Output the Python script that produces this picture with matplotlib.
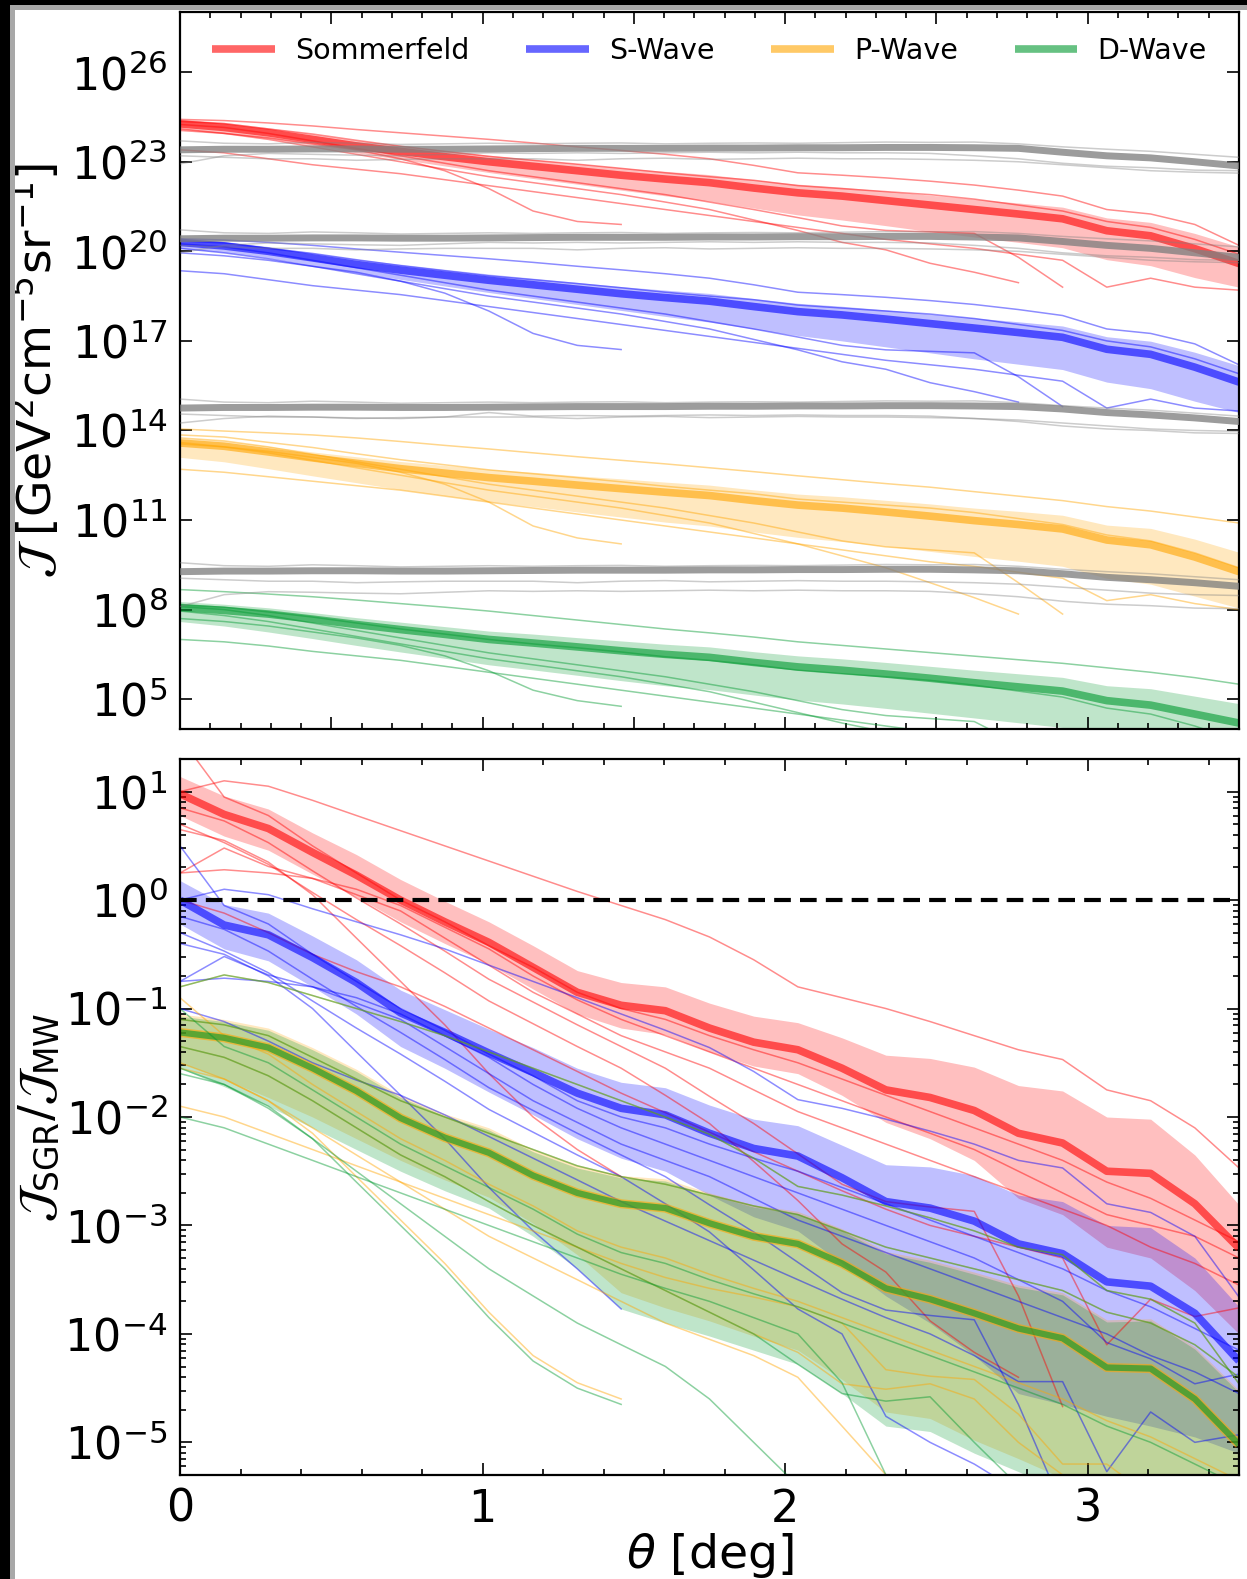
import numpy as np
import matplotlib
matplotlib.use("Agg")
import matplotlib.pyplot as plt
from matplotlib.ticker import FixedLocator, MultipleLocator, NullLocator, LogLocator
from matplotlib.patches import Rectangle

# ---------------------------------------------------------------------------
# Angular grid [deg]
THETA = [0.0, 0.146, 0.292, 0.438, 0.583, 0.729, 0.875, 1.021, 1.167, 1.313,
         1.458, 1.604, 1.75, 1.896, 2.042, 2.188, 2.333, 2.479, 2.625, 2.771,
         2.917, 3.063, 3.208, 3.354, 3.5]

CHANNELS = ["Sommerfeld", "S-Wave", "P-Wave", "D-Wave"]

# ---------------------------------------------------------------------------
# Upper panel: log10 J [GeV^2 cm^-5 sr^-1] for the SGR stream
SOM_MED = [24.27, 24.15, 23.97, 23.75, 23.53, 23.35, 23.17, 23.00, 22.85, 22.70, 22.55, 22.42, 22.30, 22.12, 21.96, 21.85, 21.70, 21.55, 21.40, 21.25, 21.09, 20.69, 20.52, 20.09, 19.59]
SOM_HI = [24.43, 24.32, 24.14, 23.93, 23.72, 23.55, 23.38, 23.22, 23.08, 22.94, 22.80, 22.68, 22.57, 22.40, 22.25, 22.15, 22.02, 21.88, 21.75, 21.62, 21.48, 21.12, 20.97, 20.60, 20.15]
SOM_LO = [24.10, 23.97, 23.78, 23.55, 23.30, 23.08, 22.86, 22.64, 22.44, 22.25, 22.05, 21.86, 21.68, 21.45, 21.22, 21.05, 20.86, 20.66, 20.48, 20.30, 20.12, 19.72, 19.52, 19.12, 18.80]

S_MED = [20.30, 20.18, 20.00, 19.78, 19.56, 19.37, 19.20, 19.03, 18.88, 18.73, 18.58, 18.45, 18.33, 18.15, 17.98, 17.87, 17.73, 17.58, 17.43, 17.28, 17.12, 16.72, 16.55, 16.12, 15.62]
S_HI = [20.43, 20.33, 20.16, 19.95, 19.74, 19.57, 19.40, 19.24, 19.10, 18.96, 18.82, 18.70, 18.59, 18.42, 18.26, 18.16, 18.04, 17.90, 17.77, 17.64, 17.50, 17.14, 16.99, 16.62, 16.17]
S_LO = [20.10, 19.97, 19.78, 19.54, 19.29, 19.06, 18.84, 18.62, 18.42, 18.22, 18.02, 17.82, 17.63, 17.40, 17.18, 17.00, 16.80, 16.60, 16.40, 16.22, 16.04, 15.62, 15.40, 14.98, 14.60]

P_MED = [13.58, 13.47, 13.28, 13.08, 12.90, 12.72, 12.57, 12.42, 12.30, 12.17, 12.05, 11.93, 11.82, 11.65, 11.50, 11.40, 11.27, 11.13, 10.98, 10.85, 10.70, 10.33, 10.17, 9.76, 9.27]
P_HI = [13.75, 13.65, 13.47, 13.28, 13.12, 12.96, 12.83, 12.70, 12.60, 12.48, 12.38, 12.27, 12.17, 12.01, 11.87, 11.78, 11.66, 11.54, 11.40, 11.29, 11.16, 10.83, 10.72, 10.36, 9.92]
P_LO = [13.10, 12.95, 12.72, 12.48, 12.25, 12.02, 11.82, 11.62, 11.45, 11.27, 11.10, 10.93, 10.80, 10.60, 10.42, 10.28, 10.12, 9.95, 9.78, 9.62, 9.45, 9.05, 8.85, 8.45, 8.05]

D_MED = [8.07, 7.97, 7.85, 7.68, 7.50, 7.33, 7.17, 7.00, 6.88, 6.75, 6.62, 6.50, 6.40, 6.23, 6.08, 5.97, 5.84, 5.70, 5.55, 5.41, 5.27, 4.95, 4.80, 4.50, 4.20]
D_HI = [8.27, 8.18, 8.06, 7.90, 7.73, 7.58, 7.43, 7.28, 7.18, 7.06, 6.95, 6.84, 6.75, 6.59, 6.45, 6.35, 6.23, 6.10, 5.97, 5.85, 5.73, 5.45, 5.35, 5.10, 4.85]
D_LO = [7.60, 7.45, 7.25, 7.03, 6.80, 6.58, 6.37, 6.15, 5.98, 5.80, 5.62, 5.45, 5.32, 5.14, 4.97, 4.84, 4.69, 4.53, 4.37, 4.21, 4.05, 3.70, 3.52, 3.15, 2.85]

# individual stream realisations (upper panel)
SOM_RUNS = [
    [24.42, 24.38, 24.30, 24.20, 24.08, 23.97, 23.86, 23.75, 23.63, 23.50, 23.38, 23.25, 23.10, 22.88, 22.63, 22.55, 22.46, 22.35, 22.22, 22.05, 21.85, 21.40, 21.25, 20.90, 20.20],
    [24.05, 23.95, 23.80, 23.60, 23.40, 23.10, 22.70, 22.10, 21.35, 21.00, 20.90],
    [24.10, 23.95, 23.75, 23.50, 23.25, 23.00, 22.75, 22.50, 22.30, 22.10, 21.90, 21.65, 21.40, 21.05, 20.70, 20.30, 20.05, 19.60, 19.30, 18.95],
    [24.25, 24.15, 23.95, 23.70, 23.45, 23.20, 22.95, 22.70, 22.50, 22.30, 22.10, 21.90, 21.65, 21.40, 21.13, 20.85, 20.70, 20.65, 20.60, 19.80, 18.80],
    [23.40, 23.30, 23.10, 22.90, 22.75, 22.60, 22.40, 22.20, 22.00, 21.80, 21.60, 21.40, 21.20, 21.00, 20.80, 20.60, 20.40, 20.25, 20.10, 19.90, 19.70, 18.80, 19.10, 18.80, 18.70],
    [24.35, 24.28, 24.10, 23.93, 23.72, 23.52, 23.35, 23.18, 23.05, 22.92, 22.78, 22.63, 22.50, 22.38, 22.20, 22.10, 22.00, 21.90, 21.75, 21.55, 21.35, 21.00, 20.80, 20.40, 19.90],
]
S_RUNS = [
    [20.42, 20.38, 20.30, 20.20, 20.08, 19.97, 19.86, 19.75, 19.63, 19.50, 19.38, 19.25, 19.10, 18.88, 18.63, 18.55, 18.46, 18.35, 18.22, 18.05, 17.85, 17.40, 17.25, 16.90, 16.20],
    [19.95, 19.85, 19.70, 19.50, 19.30, 19.00, 18.60, 18.00, 17.25, 16.85, 16.71],
    [20.10, 19.95, 19.75, 19.50, 19.25, 19.00, 18.75, 18.50, 18.30, 18.10, 17.90, 17.65, 17.40, 17.05, 16.70, 16.30, 16.05, 15.60, 15.30, 14.95],
    [20.25, 20.15, 19.95, 19.70, 19.45, 19.20, 18.95, 18.70, 18.50, 18.30, 18.10, 17.90, 17.65, 17.40, 17.13, 16.85, 16.70, 16.65, 16.60, 15.80, 14.80],
    [19.35, 19.25, 19.05, 18.85, 18.70, 18.55, 18.35, 18.15, 17.95, 17.75, 17.55, 17.35, 17.15, 16.95, 16.75, 16.55, 16.35, 16.20, 16.05, 15.85, 15.65, 14.75, 15.05, 14.75, 14.65],
    [20.35, 20.28, 20.10, 19.93, 19.72, 19.52, 19.35, 19.18, 19.05, 18.92, 18.78, 18.63, 18.50, 18.38, 18.20, 18.10, 18.00, 17.90, 17.75, 17.55, 17.35, 17.00, 16.80, 16.40, 15.90],
]
P_RUNS = [
    [14.05, 13.98, 13.92, 13.85, 13.75, 13.63, 13.50, 13.38, 13.25, 13.12, 13.00, 12.88, 12.75, 12.62, 12.48, 12.35, 12.22, 12.10, 11.95, 11.80, 11.65, 11.45, 11.30, 11.10, 10.90],
    [13.55, 13.45, 13.30, 13.10, 12.90, 12.60, 12.20, 11.60, 10.80, 10.40, 10.20],
    [13.60, 13.45, 13.25, 13.00, 12.75, 12.50, 12.25, 12.00, 11.80, 11.60, 11.40, 11.15, 10.90, 10.55, 10.20, 9.80, 9.40, 8.90, 8.40, 7.85],
    [13.75, 13.65, 13.45, 13.20, 12.95, 12.70, 12.45, 12.20, 12.00, 11.80, 11.60, 11.40, 11.15, 10.90, 10.60, 10.30, 10.10, 10.00, 9.90, 8.90, 7.85],
    [12.70, 12.60, 12.45, 12.30, 12.15, 12.00, 11.80, 11.60, 11.40, 11.20, 11.00, 10.80, 10.60, 10.40, 10.20, 10.00, 9.80, 9.60, 9.45, 9.25, 9.05, 8.30, 8.50, 8.20, 8.00],
    [13.85, 13.78, 13.60, 13.43, 13.22, 13.02, 12.85, 12.68, 12.55, 12.42, 12.28, 12.13, 12.00, 11.88, 11.70, 11.60, 11.50, 11.40, 11.25, 11.05, 10.85, 10.50, 10.30, 9.90, 9.40],
]
D_RUNS = [
    [8.67, 8.60, 8.52, 8.43, 8.32, 8.20, 8.08, 7.95, 7.80, 7.65, 7.50, 7.35, 7.22, 7.08, 6.92, 6.80, 6.68, 6.56, 6.44, 6.32, 6.20, 6.05, 5.90, 5.72, 5.50],
    [7.70, 7.60, 7.45, 7.25, 7.05, 6.80, 6.45, 5.95, 5.30, 4.95, 4.76],
    [7.95, 7.80, 7.60, 7.35, 7.10, 6.85, 6.60, 6.35, 6.15, 5.95, 5.75, 5.50, 5.25, 4.90, 4.55, 4.20, 3.90, 3.50, 3.10, 2.70],
    [8.10, 8.00, 7.80, 7.55, 7.30, 7.05, 6.80, 6.55, 6.35, 6.15, 5.95, 5.75, 5.50, 5.25, 4.95, 4.65, 4.45, 4.35, 4.25, 3.50, 2.60],
    [7.00, 6.92, 6.78, 6.60, 6.45, 6.30, 6.10, 5.90, 5.70, 5.50, 5.30, 5.10, 4.90, 4.70, 4.50, 4.30, 4.10, 3.90, 3.70, 3.50, 3.30, 2.50, 2.70, 2.40, 2.20],
    [8.15, 8.08, 7.92, 7.75, 7.55, 7.35, 7.18, 7.00, 6.85, 6.72, 6.58, 6.42, 6.30, 6.15, 5.97, 5.85, 5.75, 5.63, 5.47, 5.27, 5.07, 4.70, 4.50, 4.10, 3.60],
]

# Milky Way foreground (log10 J), one bundle per channel
SOM_MW = [23.40, 23.42, 23.42, 23.43, 23.43, 23.42, 23.42, 23.43, 23.44, 23.45, 23.45, 23.45, 23.46, 23.46, 23.47, 23.47, 23.48, 23.48, 23.47, 23.45, 23.32, 23.20, 23.13, 23.00, 22.86]
S_MW = [20.42, 20.44, 20.44, 20.45, 20.45, 20.44, 20.44, 20.45, 20.46, 20.47, 20.47, 20.47, 20.48, 20.48, 20.49, 20.49, 20.50, 20.50, 20.48, 20.45, 20.33, 20.20, 20.10, 19.95, 19.80]
P_MW = [14.75, 14.77, 14.77, 14.78, 14.78, 14.77, 14.77, 14.78, 14.79, 14.80, 14.80, 14.80, 14.81, 14.81, 14.82, 14.82, 14.83, 14.83, 14.82, 14.80, 14.72, 14.60, 14.52, 14.42, 14.30]
D_MW = [9.27, 9.29, 9.29, 9.30, 9.30, 9.29, 9.29, 9.30, 9.31, 9.32, 9.32, 9.32, 9.33, 9.33, 9.34, 9.34, 9.35, 9.35, 9.33, 9.30, 9.20, 9.08, 9.00, 8.90, 8.78]

SOM_MW_RUNS = [
    [23.70, 23.62, 23.60, 23.65, 23.62, 23.58, 23.60, 23.62, 23.60, 23.62, 23.63, 23.60, 23.62, 23.63, 23.62, 23.64, 23.66, 23.65, 23.66, 23.60, 23.50, 23.42, 23.35, 23.25, 23.15],
    [22.93, 23.20, 23.28, 23.25, 23.22, 23.20, 23.25, 23.30, 23.28, 23.30, 23.28, 23.30, 23.32, 23.30, 23.32, 23.30, 23.30, 23.28, 23.20, 23.10, 22.95, 22.85, 22.80, 22.72, 22.70],
    [23.20, 23.15, 23.10, 23.10, 23.05, 23.08, 23.10, 23.10, 23.10, 23.05, 23.10, 23.12, 23.08, 23.10, 23.12, 23.10, 23.10, 23.08, 23.05, 23.00, 22.90, 22.80, 22.70, 22.65, 22.62],
]
S_MW_RUNS = [
    [20.72, 20.62, 20.60, 20.65, 20.62, 20.58, 20.60, 20.62, 20.60, 20.62, 20.63, 20.60, 20.62, 20.63, 20.62, 20.64, 20.66, 20.65, 20.66, 20.60, 20.50, 20.42, 20.35, 20.25, 20.15],
    [19.95, 20.20, 20.28, 20.25, 20.22, 20.20, 20.25, 20.30, 20.28, 20.30, 20.28, 20.30, 20.32, 20.30, 20.32, 20.30, 20.30, 20.28, 20.20, 20.10, 19.95, 19.85, 19.80, 19.72, 19.70],
    [20.20, 20.15, 20.10, 20.10, 20.05, 20.08, 20.10, 20.10, 20.10, 20.05, 20.10, 20.12, 20.08, 20.10, 20.12, 20.10, 20.10, 20.08, 20.05, 20.00, 19.90, 19.80, 19.70, 19.65, 19.62],
]
P_MW_RUNS = [
    [15.05, 14.95, 14.93, 14.98, 14.95, 14.91, 14.93, 14.95, 14.93, 14.95, 14.96, 14.93, 14.95, 14.96, 14.95, 14.97, 14.99, 14.98, 14.99, 14.93, 14.83, 14.75, 14.68, 14.58, 14.48],
    [14.25, 14.40, 14.48, 14.45, 14.42, 14.40, 14.45, 14.60, 14.48, 14.50, 14.48, 14.50, 14.52, 14.50, 14.52, 14.50, 14.50, 14.48, 14.40, 14.30, 14.15, 14.05, 14.00, 13.92, 13.90],
    [14.55, 14.50, 14.45, 14.45, 14.40, 14.43, 14.45, 14.45, 14.45, 14.40, 14.45, 14.47, 14.43, 14.45, 14.47, 14.45, 14.45, 14.43, 14.40, 14.35, 14.25, 14.15, 14.05, 14.00, 13.97],
]
D_MW_RUNS = [
    [9.57, 9.47, 9.45, 9.50, 9.47, 9.43, 9.45, 9.47, 9.45, 9.47, 9.48, 9.45, 9.47, 9.48, 9.47, 9.49, 9.51, 9.50, 9.51, 9.45, 9.35, 9.27, 9.20, 9.10, 9.00],
    [8.10, 8.50, 8.60, 8.58, 8.55, 8.53, 8.58, 8.63, 8.61, 8.63, 8.61, 8.63, 8.65, 8.63, 8.65, 8.63, 8.63, 8.61, 8.53, 8.43, 8.28, 8.18, 8.13, 8.05, 8.03],
    [9.05, 9.00, 8.95, 8.95, 8.90, 8.93, 8.95, 8.95, 8.95, 8.90, 8.95, 8.97, 8.93, 8.95, 8.97, 8.95, 8.95, 8.93, 8.90, 8.85, 8.75, 8.65, 8.55, 8.50, 8.47],
]

# ---------------------------------------------------------------------------
# Lower panel: log10 (J_SGR / J_MW)
SOM_R_MED = [0.98, 0.79, 0.66, 0.44, 0.23, 0.00, -0.20, -0.39, -0.62, -0.85, -0.97, -1.02, -1.18, -1.31, -1.38, -1.55, -1.75, -1.82, -1.94, -2.15, -2.24, -2.50, -2.52, -2.80, -3.21]
SOM_R_HI = [1.14, 0.96, 0.84, 0.62, 0.42, 0.19, -0.01, -0.20, -0.42, -0.65, -0.76, -0.80, -0.95, -1.07, -1.13, -1.27, -1.43, -1.46, -1.54, -1.71, -1.76, -2.00, -2.02, -2.35, -2.81]
SOM_R_LO = [0.78, 0.59, 0.46, 0.24, 0.03, -0.20, -0.40, -0.59, -0.82, -1.05, -1.18, -1.24, -1.40, -1.53, -1.60, -1.80, -2.05, -2.20, -2.40, -2.75, -2.90, -3.20, -3.30, -3.60, -4.00]

S_R_MED = [0.00, -0.23, -0.32, -0.53, -0.76, -1.04, -1.22, -1.41, -1.59, -1.78, -1.92, -1.98, -2.15, -2.29, -2.36, -2.56, -2.78, -2.84, -2.96, -3.17, -3.26, -3.52, -3.56, -3.81, -4.25]
S_R_HI = [0.18, -0.04, -0.12, -0.33, -0.55, -0.83, -1.01, -1.19, -1.36, -1.55, -1.68, -1.73, -1.89, -2.02, -2.08, -2.26, -2.44, -2.46, -2.54, -2.72, -2.78, -3.00, -3.02, -3.30, -3.75]
S_R_LO = [-0.22, -0.45, -0.56, -0.80, -1.05, -1.35, -1.55, -1.77, -1.98, -2.20, -2.38, -2.50, -2.72, -2.92, -3.05, -3.35, -3.65, -3.90, -4.20, -4.55, -4.65, -4.76, -4.85, -4.95, -5.10]

P_R_MED = [-1.22, -1.27, -1.36, -1.55, -1.76, -2.01, -2.19, -2.33, -2.54, -2.70, -2.80, -2.84, -2.98, -3.10, -3.17, -3.35, -3.58, -3.68, -3.81, -3.95, -4.04, -4.31, -4.32, -4.60, -5.02]
P_R_HI = [-1.05, -1.10, -1.18, -1.36, -1.56, -1.80, -1.97, -2.10, -2.30, -2.45, -2.54, -2.57, -2.70, -2.81, -2.87, -3.03, -3.24, -3.32, -3.43, -3.55, -3.62, -3.87, -3.86, -4.12, -4.52]
P_R_LO = [-1.50, -1.65, -1.82, -2.00, -2.20, -2.40, -2.58, -2.74, -2.98, -3.27, -3.62, -3.76, -3.88, -4.02, -4.15, -4.42, -4.72, -4.78, -4.98, -5.15, -5.33, -5.50, -5.60, -5.80, -6.00]

D_R_MED = [-1.22, -1.27, -1.36, -1.55, -1.76, -2.01, -2.19, -2.33, -2.54, -2.70, -2.80, -2.84, -2.98, -3.10, -3.17, -3.35, -3.58, -3.68, -3.81, -3.95, -4.04, -4.31, -4.32, -4.60, -5.02]
D_R_HI = [-1.07, -1.12, -1.20, -1.38, -1.58, -1.82, -1.99, -2.12, -2.32, -2.47, -2.56, -2.59, -2.72, -2.83, -2.89, -3.05, -3.26, -3.34, -3.45, -3.57, -3.64, -3.89, -3.88, -4.14, -4.54]
D_R_LO = [-1.55, -1.72, -1.90, -2.10, -2.30, -2.50, -2.68, -2.84, -3.10, -3.40, -3.77, -3.90, -4.02, -4.15, -4.28, -4.55, -4.85, -4.90, -5.10, -5.27, -5.45, -5.60, -5.70, -5.90, -6.10]

SOM_R_RUNS = [
    [1.00, 1.10, 1.05, 0.92, 0.78, 0.64, 0.50, 0.36, 0.22, 0.08, -0.05, -0.18, -0.34, -0.55, -0.80, -0.90, -1.00, -1.12, -1.25, -1.38, -1.47, -1.75, -1.85, -2.10, -2.47],
    [0.65, 0.55, 0.35, 0.05, -0.35, -0.75, -1.15, -1.60, -2.00, -2.30, -2.55],
    [0.70, 0.53, 0.33, 0.07, -0.18, -0.42, -0.67, -0.93, -1.14, -1.35, -1.55, -1.80, -2.06, -2.41, -2.77, -3.17, -3.43, -3.88, -4.17, -4.40],
    [0.85, 0.73, 0.53, 0.27, 0.02, -0.22, -0.47, -0.73, -0.94, -1.15, -1.35, -1.55, -1.81, -2.06, -2.34, -2.62, -2.78, -2.83, -2.87, -3.65, -4.67],
    [0.00, -0.12, -0.30, -0.50, -0.66, -0.80, -0.98, -1.18, -1.38, -1.58, -1.78, -1.96, -2.14, -2.32, -2.50, -2.68, -2.85, -3.00, -3.10, -3.20, -3.30, -4.10, -3.68, -3.84, -3.76],
    [1.50, 0.95, 0.78, 0.50, 0.25, 0.00, -0.20, -0.42, -0.62, -0.85, -1.00, -1.10, -1.25, -1.38, -1.50, -1.65, -1.80, -1.95, -2.10, -2.25, -2.40, -2.60, -2.75, -2.95, -3.15],
    [0.25, 0.48, 0.31, 0.20, 0.10, -0.05, -0.25, -0.45, -0.70, -0.92, -1.10, -1.25, -1.40, -1.55, -1.70, -1.85, -2.00, -2.15, -2.30, -2.50, -2.70, -2.90, -3.00, -3.10, -3.30],
    [0.25, 0.28, 0.25, 0.20, 0.05, -0.10, -0.35, -0.60, -0.85, -1.05, -1.25, -1.40, -1.55, -1.75, -1.95, -2.10, -2.25, -2.40, -2.55, -2.70, -2.85, -3.00, -3.20, -3.35, -3.55],
]
S_R_RUNS = [
    [0.00, 0.10, 0.05, -0.08, -0.20, -0.32, -0.45, -0.60, -0.75, -0.90, -1.05, -1.20, -1.36, -1.58, -1.84, -1.92, -2.02, -2.13, -2.25, -2.40, -2.47, -2.80, -2.88, -3.10, -3.66],
    [-0.40, -0.50, -0.70, -1.00, -1.40, -1.80, -2.20, -2.65, -3.05, -3.40, -3.77],
    [-0.30, -0.47, -0.67, -0.93, -1.18, -1.42, -1.67, -1.93, -2.14, -2.35, -2.55, -2.80, -3.06, -3.41, -3.77, -4.00, -4.76, -5.00, -5.20, -5.45],
    [-0.15, -0.27, -0.47, -0.73, -0.98, -1.22, -1.47, -1.73, -1.94, -2.15, -2.35, -2.55, -2.81, -3.06, -3.34, -3.62, -3.78, -3.83, -3.87, -4.65, -5.60],
    [-1.00, -1.12, -1.30, -1.50, -1.66, -1.80, -1.98, -2.18, -2.38, -2.58, -2.78, -2.96, -3.14, -3.32, -3.50, -3.68, -3.85, -4.00, -4.20, -4.44, -4.44, -5.27, -4.72, -5.00, -4.93],
    [0.50, -0.05, -0.22, -0.50, -0.75, -1.00, -1.20, -1.42, -1.62, -1.85, -2.00, -2.10, -2.25, -2.38, -2.50, -2.65, -2.80, -2.95, -3.10, -3.25, -3.40, -3.60, -3.75, -3.95, -4.15],
    [-0.75, -0.52, -0.69, -0.80, -0.90, -1.05, -1.25, -1.45, -1.70, -1.92, -2.10, -2.25, -2.40, -2.55, -2.70, -2.85, -3.00, -3.15, -3.30, -3.50, -3.70, -4.08, -4.23, -4.46, -4.37],
    [-0.75, -0.72, -0.75, -0.80, -0.95, -1.10, -1.35, -1.60, -1.85, -2.05, -2.25, -2.40, -2.55, -2.75, -2.95, -3.10, -3.25, -3.40, -3.55, -3.70, -3.85, -4.00, -4.20, -4.35, -4.55],
]
P_R_RUNS = [
    [-0.80, -0.69, -0.76, -0.88, -1.00, -1.12, -1.25, -1.40, -1.55, -1.70, -1.85, -2.00, -2.16, -2.38, -2.64, -2.72, -2.82, -2.93, -3.05, -3.20, -3.27, -3.60, -3.68, -3.90, -4.46],
    [-1.55, -1.65, -1.85, -2.15, -2.55, -2.95, -3.35, -3.80, -4.20, -4.45, -4.60],
    [-1.50, -1.65, -1.85, -2.10, -2.35, -2.60, -2.85, -3.10, -3.30, -3.50, -3.70, -3.90, -4.05, -4.20, -4.40, -4.85, -5.30, -5.60, -5.90, -6.20],
    [-1.35, -1.45, -1.62, -1.85, -2.10, -2.35, -2.55, -2.78, -3.00, -3.20, -3.40, -3.60, -3.80, -4.00, -4.17, -4.46, -4.51, -4.46, -4.60, -5.00, -5.30],
    [-1.90, -2.00, -2.15, -2.30, -2.45, -2.60, -2.75, -2.90, -3.05, -3.20, -3.35, -3.48, -3.58, -3.66, -3.75, -3.90, -4.33, -4.39, -4.42, -4.74, -5.20, -5.20, -5.50, -5.70, -5.90],
    [-0.90, -1.25, -1.42, -1.70, -1.95, -2.20, -2.40, -2.62, -2.82, -3.05, -3.20, -3.30, -3.45, -3.58, -3.70, -3.85, -4.00, -4.15, -4.30, -4.45, -4.60, -4.80, -4.95, -5.15, -5.35],
    [-1.10, -1.15, -1.25, -1.45, -1.65, -1.85, -2.00, -2.15, -2.30, -2.45, -2.55, -2.62, -2.72, -2.82, -2.90, -3.05, -3.20, -3.30, -3.40, -3.50, -3.60, -3.80, -3.90, -4.10, -4.40],
]
D_R_RUNS = [
    [-0.80, -0.69, -0.76, -0.88, -1.00, -1.12, -1.25, -1.40, -1.55, -1.70, -1.85, -2.00, -2.16, -2.38, -2.64, -2.72, -2.82, -2.93, -3.05, -3.20, -3.27, -3.60, -3.68, -3.90, -4.46],
    [-1.60, -1.70, -1.90, -2.20, -2.60, -3.00, -3.40, -3.85, -4.25, -4.50, -4.65],
    [-1.55, -1.70, -1.92, -2.20, -2.50, -2.80, -3.10, -3.40, -3.65, -3.90, -4.10, -4.30, -4.60, -5.00, -5.40, -5.80],
    [-1.35, -1.45, -1.62, -1.85, -2.10, -2.35, -2.55, -2.78, -3.00, -3.20, -3.40, -3.60, -3.80, -4.00, -4.28, -4.55, -4.62, -4.58, -5.00, -5.40],
    [-2.00, -2.10, -2.25, -2.40, -2.55, -2.70, -2.85, -3.00, -3.15, -3.30, -3.45, -3.58, -3.70, -3.85, -4.00, -4.45, -5.30, -5.60],
    [-1.00, -1.35, -1.50, -1.75, -2.00, -2.25, -2.45, -2.65, -2.85, -3.08, -3.25, -3.35, -3.50, -3.63, -3.75, -3.90, -4.05, -4.20, -4.35, -4.50, -4.65, -4.85, -5.00, -5.20, -5.40],
    [-1.10, -1.15, -1.25, -1.45, -1.65, -1.85, -2.00, -2.15, -2.30, -2.45, -2.55, -2.62, -2.72, -2.82, -2.90, -3.05, -3.20, -3.30, -3.40, -3.50, -3.60, -3.80, -3.90, -4.10, -4.40],
]

COLORS = ["#ff0000", "#0000ff", "#ffa500", "#00992f"]

TOP = [
    (SOM_MED, SOM_LO, SOM_HI, SOM_RUNS),
    (S_MED, S_LO, S_HI, S_RUNS),
    (P_MED, P_LO, P_HI, P_RUNS),
    (D_MED, D_LO, D_HI, D_RUNS),
]
MW = [(SOM_MW, SOM_MW_RUNS), (S_MW, S_MW_RUNS), (P_MW, P_MW_RUNS), (D_MW, D_MW_RUNS)]
BOTTOM = [
    (SOM_R_MED, SOM_R_LO, SOM_R_HI, SOM_R_RUNS),
    (S_R_MED, S_R_LO, S_R_HI, S_R_RUNS),
    (P_R_MED, P_R_LO, P_R_HI, P_R_RUNS),
    (D_R_MED, D_R_LO, D_R_HI, D_R_RUNS),
]


def lin(v):
    return 10.0 ** np.asarray(v, dtype=float)


def draw_channel(ax, med, lo, hi, runs, color, label=None, lw=5.5):
    ax.fill_between(THETA, lin(lo), lin(hi), color=color, alpha=0.25, lw=0)
    for r in runs:
        ax.plot(THETA[:len(r)], lin(r), color=color, alpha=0.45, lw=1.1)
    ax.plot(THETA, lin(med), color=color, alpha=0.6, lw=lw, label=label,
            solid_capstyle="butt")


def style_axis(ax, xmajor, xminor):
    ax.set_xlim(0, 3.5)
    ax.xaxis.set_major_locator(MultipleLocator(xmajor))
    ax.xaxis.set_minor_locator(MultipleLocator(xminor))
    ax.tick_params(which="both", direction="in", top=True, right=True,
                   labelsize=32, pad=9, width=1.2)
    ax.tick_params(which="major", length=8.5)
    ax.tick_params(which="minor", length=4.5)
    for s in ax.spines.values():
        s.set_linewidth(1.6)


W, H = 1247, 1579
fig = plt.figure(figsize=(W / 100, H / 100), dpi=100)
fig.patch.set_facecolor("white")

ax1 = fig.add_axes([180 / W, 1 - 729 / H, 1059 / W, 716.5 / H])
ax2 = fig.add_axes([180 / W, 1 - 1475 / H, 1059 / W, 716 / H])

# ---- upper panel
for (med, lo, hi, runs), color, name in zip(TOP, COLORS, CHANNELS):
    draw_channel(ax1, med, lo, hi, runs, color, label=name)
for mw, mw_runs in MW:
    for r in mw_runs:
        ax1.plot(THETA, lin(r), color="gray", alpha=0.4, lw=1.1, zorder=3)
    ax1.plot(THETA, lin(mw), color="gray", alpha=0.78, lw=5, zorder=3)

ax1.set_yscale("log")
ax1.set_ylim(1e4, 1e28)
ax1.yaxis.set_major_locator(FixedLocator([1e5, 1e8, 1e11, 1e14, 1e17, 1e20, 1e23, 1e26]))
ax1.yaxis.set_minor_locator(NullLocator())
style_axis(ax1, 0.5, 0.1)
ax1.tick_params(labelbottom=False)
ax1.set_ylabel(r"$\mathcal{J}\;[\mathrm{GeV}^2\mathrm{cm}^{-5}\mathrm{sr}^{-1}]$", fontsize=34)
ax1.yaxis.set_label_coords(-0.112, 0.5)

leg = ax1.legend(loc="upper center", bbox_to_anchor=(0.5, 1.0), ncol=4, frameon=False,
                 fontsize=20.5, handlelength=2.2, handletextpad=0.7, columnspacing=2.0,
                 borderaxespad=0.45)

# ---- lower panel
for (med, lo, hi, runs), color, lw in zip(BOTTOM, COLORS, [5.5, 5.5, 6.5, 4.5]):
    draw_channel(ax2, med, lo, hi, runs, color, lw=lw)
ax2.axhline(1.0, color="black", lw=3, ls=(0, (4, 2.2)), zorder=5)

ax2.set_yscale("log")
ax2.set_ylim(5e-6, 2e1)
ax2.yaxis.set_major_locator(LogLocator(base=10, numticks=20))
ax2.yaxis.set_minor_locator(LogLocator(base=10, subs=np.arange(2, 10), numticks=20))
style_axis(ax2, 1.0, 0.2)
ax2.set_xlabel(r"$\theta$ [deg]", fontsize=34, labelpad=0)
ax2.set_ylabel(r"$\mathcal{J}_{\rm SGR}/\mathcal{J}_{\rm MW}$", fontsize=34)
ax2.yaxis.set_label_coords(-0.112, 0.5)

# window frame along the left and top edges
fig.add_artist(Rectangle((0, 0), 10 / W, 1, transform=fig.transFigure,
                         facecolor="black", edgecolor="none", zorder=10))
fig.add_artist(Rectangle((10 / W, 0), 5 / W, 1 - 10 / H, transform=fig.transFigure,
                         facecolor="#a8a8a8", edgecolor="none", zorder=10))
fig.add_artist(Rectangle((0, 1 - 5 / H), 1, 5 / H, transform=fig.transFigure,
                         facecolor="black", edgecolor="none", zorder=10))
fig.add_artist(Rectangle((10 / W, 1 - 10 / H), 1, 5 / H, transform=fig.transFigure,
                         facecolor="#a8a8a8", edgecolor="none", zorder=10))

fig.savefig("out.png", dpi=100)
